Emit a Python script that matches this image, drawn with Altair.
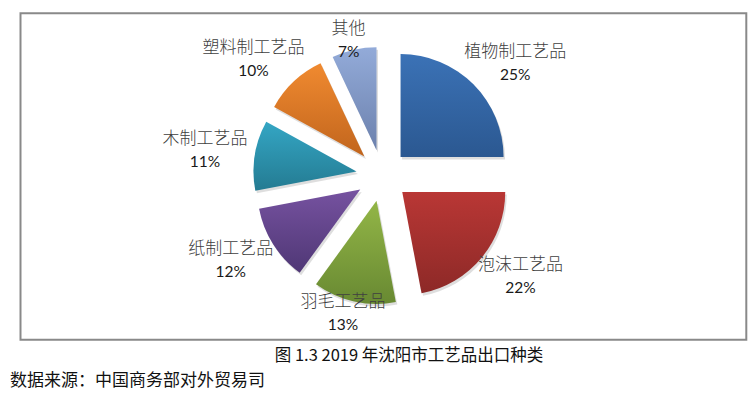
import altair as alt
import pandas as pd

# ---- data ----
categories = ["植物制工艺品", "泡沫工艺品", "羽毛工艺品", "纸制工艺品", "木制工艺品", "塑料制工艺品", "其他"]
values = [25, 22, 13, 12, 11, 10, 7]
top_colors = ["#3B72B6", "#B93735", "#93B647", "#7652A0", "#34A6C4", "#F08A30", "#93ABD9"]
bottom_colors = ["#2B5891", "#8D2927", "#688932", "#4F3775", "#247B92", "#C1651D", "#6C81AD"]
caption = "图 1.3 2019 年沈阳市工艺品出口种类"
source = "数据来源：中国商务部对外贸易司"

df = pd.DataFrame({"i": list(range(len(categories))), "cat": categories, "v": values})

# layout constants (chart coordinates)
W, H = 740, 382
CX, CY = 374.2, 167.5   # pie centre
R = 103                 # radius
D = 26                  # explode distance
R1 = 137                # label anchor radius
HH = 22                 # half height of label block
YMIN, YMAX = 32, 305

base = alt.Chart(df).transform_window(
    cum="sum(v)", sort=[alt.SortField("i")], frame=[None, 0]
).transform_joinaggregate(
    total="sum(v)"
).transform_calculate(
    a0="(datum.cum - datum.v) / datum.total * 2 * PI",
    a1="datum.cum / datum.total * 2 * PI",
).transform_calculate(
    am="(datum.a0 + datum.a1) / 2",
).transform_calculate(
    px=f"{CX} + {D} * sin(datum.am)",
    py=f"{CY} - {D} * cos(datum.am)",
    hw="max(length(datum.cat), 2) * 8.5",
    pct="format(datum.v / datum.total, '.0%')",
).transform_calculate(
    lx=f"{CX} + ({R1} + datum.hw) * sin(datum.am)",
    ly=f"clamp({CY} - ({R1} + {HH}) * cos(datum.am), {YMIN}, {YMAX})",
    sx="datum.px + 1.5",
    sy="datum.py + 2.5",
)

shadow = base.mark_arc(radius=R, fill="#000000", fillOpacity=0.13).encode(
    theta=alt.Theta("a0:Q", scale=None),
    theta2="a1:Q",
    x=alt.X("sx:Q", scale=None),
    y=alt.Y("sy:Q", scale=None),
)

slices = []
for c, t, b in zip(categories, top_colors, bottom_colors):
    grad = alt.Gradient(
        gradient="linear",
        stops=[alt.GradientStop(color=t, offset=0), alt.GradientStop(color=b, offset=1)],
        x1=0, x2=0, y1=0, y2=1,
    )
    slices.append(
        base.transform_filter(alt.datum.cat == c).mark_arc(radius=R, fill=grad).encode(
            theta=alt.Theta("a0:Q", scale=None),
            theta2="a1:Q",
            x=alt.X("px:Q", scale=None),
            y=alt.Y("py:Q", scale=None),
        )
    )

names = base.mark_text(
    font="Noto Sans CJK SC", fontSize=17, fontWeight=300, color="#404040",
    baseline="middle", align="center", dy=-11.5,
).encode(
    x=alt.X("lx:Q", scale=None), y=alt.Y("ly:Q", scale=None), text="cat:N"
)

pcts = base.mark_text(
    font="Lato", fontSize=15.5, color="#1a1a1a", baseline="middle", align="center", dy=11.5,
).encode(
    x=alt.X("lx:Q", scale=None), y=alt.Y("ly:Q", scale=None), text="pct:N"
)

one = pd.DataFrame({"cap": [caption], "src": [source]})
frame = alt.Chart(one).mark_rect(filled=False, stroke="#898989", strokeWidth=2).encode(
    x=alt.value(12.5), x2=alt.value(738.3), y=alt.value(5.3), y2=alt.value(331.7)
)
cap = alt.Chart(one).mark_text(
    font="Noto Sans CJK SC", fontSize=16.5, color="#111111", align="center", baseline="middle"
).encode(x=alt.value(401), y=alt.value(348), text="cap:N")
src = alt.Chart(one).mark_text(
    font="Noto Sans CJK SC", fontSize=17, color="#111111", align="left", baseline="middle"
).encode(x=alt.value(2), y=alt.value(373), text="src:N")

chart = alt.layer(frame, shadow, *slices, names, pcts, cap, src).properties(
    width=W, height=H, padding=0, autosize=alt.AutoSizeParams(type="none"),
    background="white",
).configure_view(stroke=None)

chart.save("out.html", embed_options={"renderer": "svg", "actions": False})
